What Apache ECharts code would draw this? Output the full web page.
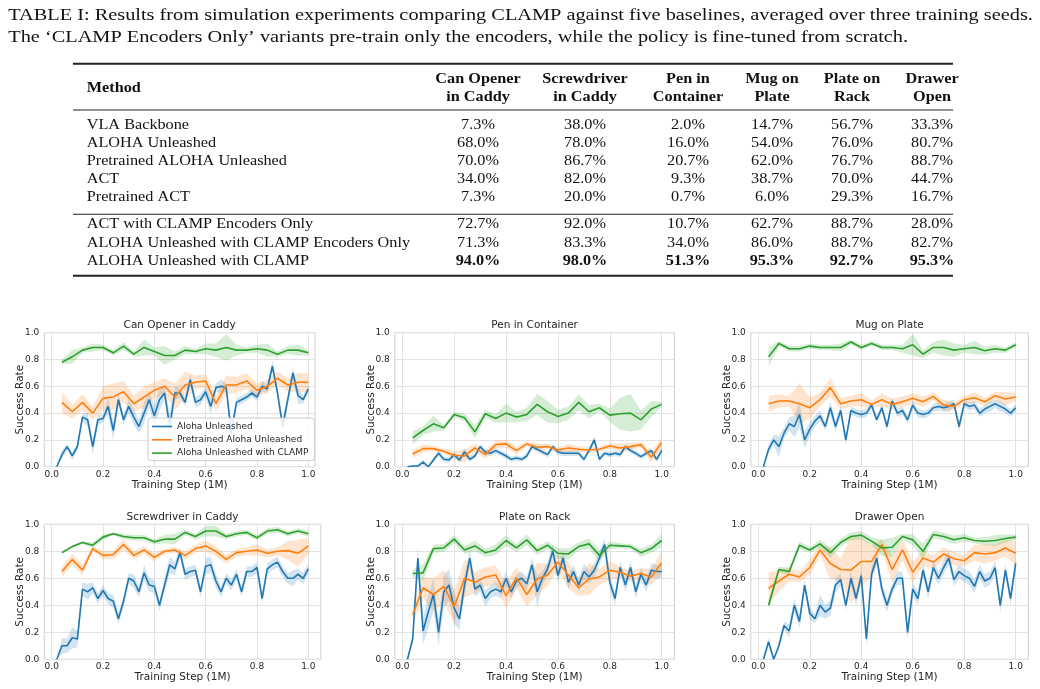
<!DOCTYPE html>
<html>
<head>
<meta charset="utf-8">
<script src="https://cdn.jsdelivr.net/npm/echarts@6/dist/echarts.min.js"></script>
<style>
  html, body { margin: 0; padding: 0; background: #fff; }
  #chart { width: 1040px; height: 689px; }
</style>
</head>
<body>
<div id="chart"></div>
<script>
// ---- table data ----
const captionLines = [
  'TABLE I: Results from simulation experiments comparing CLAMP against five baselines, averaged over three training seeds.',
  'The \u2018CLAMP Encoders Only\u2019 variants pre-train only the encoders, while the policy is fine-tuned from scratch.'
]
const taskHeaders = [
  ['Can Opener', 'in Caddy'], ['Screwdriver', 'in Caddy'], ['Pen in', 'Container'],
  ['Mug on', 'Plate'], ['Plate on', 'Rack'], ['Drawer', 'Open']
]
const methods = [
  'VLA Backbone', 'ALOHA Unleashed', 'Pretrained ALOHA Unleashed', 'ACT', 'Pretrained ACT',
  'ACT with CLAMP Encoders Only', 'ALOHA Unleashed with CLAMP Encoders Only', 'ALOHA Unleashed with CLAMP'
]
const results = [
  [7.3, 38.0, 2.0, 14.7, 56.7, 33.3],
  [68.0, 78.0, 16.0, 54.0, 76.0, 80.7],
  [70.0, 86.7, 20.7, 62.0, 76.7, 88.7],
  [34.0, 82.0, 9.3, 38.7, 70.0, 44.7],
  [7.3, 20.0, 0.7, 6.0, 29.3, 16.7],
  [72.7, 92.0, 10.7, 62.7, 88.7, 28.0],
  [71.3, 83.3, 34.0, 86.0, 88.7, 82.7],
  [94.0, 98.0, 51.3, 95.3, 92.7, 95.3]
]

// ---- curve data ----
const seriesNames = ['Aloha Unleashed', 'Pretrained Aloha Unleashed', 'Aloha Unleashed with CLAMP']
const xTicks = [0, 0.2, 0.4, 0.6, 0.8, 1.0]
const stepsFine = [0.02, 0.04, 0.06, 0.08, 0.10, 0.12, 0.14, 0.16, 0.18, 0.20,
  0.22, 0.24, 0.26, 0.28, 0.30, 0.32, 0.34, 0.36, 0.38, 0.40,
  0.42, 0.44, 0.46, 0.48, 0.50, 0.52, 0.54, 0.56, 0.58, 0.60,
  0.62, 0.64, 0.66, 0.68, 0.70, 0.72, 0.74, 0.76, 0.78, 0.80,
  0.82, 0.84, 0.86, 0.88, 0.90, 0.92, 0.94, 0.96, 0.98, 1.00]
const stepsCoarse = [0.04, 0.08, 0.12, 0.16, 0.20, 0.24, 0.28, 0.32, 0.36, 0.40,
  0.44, 0.48, 0.52, 0.56, 0.60, 0.64, 0.68, 0.72, 0.76, 0.80,
  0.84, 0.88, 0.92, 0.96, 1.00]

// Can Opener in Caddy
const canBlue = [0.00, 0.09, 0.15, 0.08, 0.15, 0.37, 0.35, 0.15, 0.35, 0.36,
  0.45, 0.27, 0.50, 0.35, 0.45, 0.37, 0.30, 0.40, 0.50, 0.38,
  0.50, 0.55, 0.30, 0.55, 0.55, 0.48, 0.65, 0.48, 0.50, 0.56,
  0.45, 0.59, 0.60, 0.59, 0.25, 0.48, 0.50, 0.52, 0.55, 0.52,
  0.60, 0.58, 0.75, 0.55, 0.30, 0.50, 0.70, 0.53, 0.50, 0.58]
const canBlueSd = [0, 0.03, 0.02, 0.03, 0.03, 0.03, 0.05, 0.06, 0.04, 0.03,
  0.06, 0.07, 0.04, 0.04, 0.05, 0.06, 0.05, 0.08, 0.06, 0.08,
  0.08, 0.05, 0.10, 0.05, 0.04, 0.03, 0.05, 0.04, 0.04, 0.04,
  0.06, 0.03, 0.05, 0.03, 0.06, 0.03, 0.03, 0.03, 0.03, 0.03,
  0.04, 0.03, 0.04, 0.04, 0.06, 0.04, 0.04, 0.06, 0.03, 0.03]
const canOrange = [0.48, 0.41, 0.48, 0.40, 0.51, 0.52, 0.56, 0.47, 0.52, 0.57, 0.60, 0.52, 0.61,
  0.63, 0.64, 0.47, 0.61, 0.61, 0.64, 0.57, 0.60, 0.66, 0.61, 0.63, 0.63]
const canOrangeSd = [0.08, 0.05, 0.06, 0.05, 0.09, 0.10, 0.08, 0.06, 0.08, 0.06, 0.06, 0.10, 0.10,
  0.05, 0.05, 0.06, 0.07, 0.06, 0.06, 0.05, 0.05, 0.05, 0.05, 0.07, 0.07]
const canGreen = [0.78, 0.82, 0.87, 0.89, 0.89, 0.85, 0.90, 0.84, 0.89, 0.86, 0.83, 0.83, 0.87,
  0.86, 0.88, 0.87, 0.89, 0.87, 0.87, 0.88, 0.87, 0.84, 0.87, 0.87, 0.85]
const canGreenSd = [0.02, 0.05, 0.02, 0.03, 0.02, 0.02, 0.03, 0.02, 0.06, 0.03, 0.07, 0.03, 0.03,
  0.02, 0.04, 0.05, 0.10, 0.04, 0.02, 0.03, 0.05, 0.02, 0.03, 0.04, 0.02]

// Pen in Container
const penBlue = [0.00, 0.005, 0.005, 0.035, 0.00, 0.05, 0.10, 0.055, 0.05, 0.09,
  0.05, 0.11, 0.055, 0.08, 0.15, 0.11, 0.10, 0.12, 0.10, 0.08,
  0.055, 0.065, 0.055, 0.08, 0.15, 0.13, 0.11, 0.09, 0.15, 0.11,
  0.10, 0.10, 0.10, 0.10, 0.055, 0.12, 0.20, 0.055, 0.10, 0.09,
  0.10, 0.09, 0.15, 0.12, 0.10, 0.075, 0.10, 0.12, 0.055, 0.12]
const penBlueSd = [0, 0.005, 0.005, 0.02, 0.005, 0.02, 0.02, 0.02, 0.02, 0.02,
  0.02, 0.03, 0.02, 0.02, 0.02, 0.02, 0.02, 0.02, 0.02, 0.02,
  0.02, 0.02, 0.02, 0.02, 0.02, 0.02, 0.02, 0.02, 0.02, 0.02,
  0.02, 0.02, 0.02, 0.02, 0.02, 0.02, 0.03, 0.02, 0.02, 0.02,
  0.02, 0.02, 0.02, 0.02, 0.02, 0.02, 0.02, 0.02, 0.02, 0.03]
const penOrange = [0.095, 0.135, 0.135, 0.115, 0.085, 0.08, 0.14, 0.09, 0.165, 0.17, 0.12, 0.17, 0.145,
  0.15, 0.125, 0.14, 0.13, 0.125, 0.13, 0.155, 0.14, 0.15, 0.165, 0.07, 0.18]
const penOrangeSd = [0.03, 0.03, 0.02, 0.02, 0.03, 0.05, 0.03, 0.03, 0.03, 0.03, 0.03, 0.02, 0.03,
  0.02, 0.02, 0.03, 0.02, 0.02, 0.02, 0.02, 0.03, 0.03, 0.02, 0.04, 0.04]
const penGreen = [0.215, 0.27, 0.32, 0.29, 0.39, 0.365, 0.26, 0.395, 0.36, 0.40, 0.37, 0.39, 0.465,
  0.41, 0.375, 0.40, 0.48, 0.41, 0.44, 0.385, 0.395, 0.40, 0.35, 0.43, 0.465]
const penGreenSd = [0.05, 0.03, 0.06, 0.02, 0.02, 0.03, 0.05, 0.03, 0.03, 0.07, 0.04, 0.05, 0.08,
  0.08, 0.05, 0.05, 0.06, 0.05, 0.03, 0.05, 0.12, 0.14, 0.07, 0.06, 0.02]

// Mug on Plate
const mugBlue = [0.00, 0.13, 0.20, 0.15, 0.25, 0.32, 0.30, 0.39, 0.20, 0.28,
  0.34, 0.38, 0.30, 0.44, 0.30, 0.42, 0.20, 0.42, 0.40, 0.39,
  0.40, 0.46, 0.35, 0.44, 0.30, 0.49, 0.40, 0.42, 0.35, 0.46,
  0.40, 0.39, 0.40, 0.44, 0.45, 0.44, 0.45, 0.47, 0.30, 0.47,
  0.45, 0.46, 0.40, 0.43, 0.45, 0.47, 0.45, 0.43, 0.40, 0.44]
const mugBlueSd = [0, 0.03, 0.04, 0.08, 0.04, 0.05, 0.08, 0.10, 0.06, 0.05,
  0.04, 0.04, 0.03, 0.05, 0.04, 0.04, 0.04, 0.03, 0.03, 0.03,
  0.03, 0.03, 0.03, 0.03, 0.03, 0.03, 0.03, 0.03, 0.03, 0.03,
  0.03, 0.03, 0.03, 0.03, 0.03, 0.03, 0.04, 0.03, 0.04, 0.03,
  0.03, 0.03, 0.03, 0.03, 0.04, 0.03, 0.04, 0.03, 0.03, 0.03]
const mugOrange = [0.47, 0.49, 0.49, 0.47, 0.44, 0.50, 0.59, 0.47, 0.49, 0.50, 0.465, 0.50, 0.465,
  0.485, 0.51, 0.485, 0.525, 0.46, 0.45, 0.50, 0.515, 0.485, 0.53, 0.505, 0.52]
const mugOrangeSd = [0.06, 0.05, 0.04, 0.15, 0.08, 0.05, 0.07, 0.04, 0.04, 0.05, 0.03, 0.05, 0.04,
  0.04, 0.04, 0.04, 0.03, 0.04, 0.03, 0.03, 0.04, 0.03, 0.03, 0.05, 0.03]
const mugGreen = [0.82, 0.92, 0.88, 0.88, 0.90, 0.89, 0.89, 0.89, 0.93, 0.89, 0.92, 0.89, 0.89,
  0.88, 0.91, 0.84, 0.89, 0.89, 0.87, 0.88, 0.89, 0.865, 0.88, 0.87, 0.91]
const mugGreenSd = [0.07, 0.02, 0.02, 0.02, 0.02, 0.02, 0.02, 0.03, 0.02, 0.02, 0.02, 0.02, 0.02,
  0.03, 0.08, 0.03, 0.04, 0.06, 0.05, 0.03, 0.05, 0.03, 0.03, 0.02, 0.02]

// Screwdriver in Caddy
const scrBlue = [0.00, 0.10, 0.10, 0.16, 0.15, 0.52, 0.50, 0.53, 0.45, 0.51,
  0.45, 0.43, 0.30, 0.43, 0.60, 0.58, 0.50, 0.64, 0.55, 0.54,
  0.40, 0.55, 0.70, 0.67, 0.79, 0.63, 0.65, 0.66, 0.50, 0.69,
  0.70, 0.58, 0.50, 0.60, 0.55, 0.63, 0.50, 0.65, 0.65, 0.68,
  0.45, 0.67, 0.70, 0.72, 0.65, 0.60, 0.60, 0.63, 0.60, 0.67]
const scrBlueSd = [0, 0.06, 0.05, 0.08, 0.06, 0.05, 0.06, 0.04, 0.04, 0.04,
  0.04, 0.05, 0.04, 0.04, 0.04, 0.05, 0.04, 0.06, 0.05, 0.05,
  0.04, 0.05, 0.06, 0.05, 0.04, 0.04, 0.04, 0.04, 0.04, 0.06,
  0.06, 0.05, 0.04, 0.04, 0.04, 0.04, 0.04, 0.04, 0.04, 0.04,
  0.04, 0.04, 0.04, 0.04, 0.04, 0.04, 0.06, 0.04, 0.04, 0.04]
const scrOrange = [0.65, 0.74, 0.66, 0.82, 0.77, 0.775, 0.85, 0.77, 0.81, 0.755, 0.80, 0.81, 0.77,
  0.82, 0.84, 0.80, 0.74, 0.79, 0.80, 0.81, 0.785, 0.80, 0.805, 0.785, 0.84]
const scrOrangeSd = [0.04, 0.04, 0.04, 0.02, 0.03, 0.03, 0.04, 0.03, 0.03, 0.03, 0.02, 0.02, 0.03,
  0.03, 0.04, 0.04, 0.03, 0.03, 0.03, 0.04, 0.03, 0.03, 0.07, 0.10, 0.06]
const scrGreen = [0.79, 0.835, 0.865, 0.845, 0.905, 0.93, 0.91, 0.90, 0.90, 0.87, 0.89, 0.89, 0.94,
  0.91, 0.95, 0.95, 0.91, 0.93, 0.94, 0.90, 0.95, 0.96, 0.93, 0.95, 0.93]
const scrGreenSd = [0.01, 0.01, 0.01, 0.02, 0.02, 0.01, 0.02, 0.02, 0.02, 0.02, 0.03, 0.04, 0.02,
  0.02, 0.04, 0.04, 0.02, 0.02, 0.02, 0.02, 0.02, 0.02, 0.02, 0.02, 0.02]

// Plate on Rack
const plateBlue = [0.00, 0.15, 0.75, 0.21, 0.35, 0.48, 0.20, 0.50, 0.55, 0.38,
  0.30, 0.55, 0.75, 0.52, 0.55, 0.45, 0.50, 0.52, 0.50, 0.60,
  0.50, 0.58, 0.60, 0.56, 0.70, 0.50, 0.60, 0.67, 0.80, 0.62,
  0.75, 0.57, 0.65, 0.55, 0.65, 0.61, 0.66, 0.75, 0.85, 0.57,
  0.45, 0.68, 0.55, 0.68, 0.50, 0.63, 0.55, 0.66, 0.65, 0.65]
const plateBlueSd = [0, 0.04, 0.08, 0.10, 0.12, 0.12, 0.10, 0.12, 0.12, 0.12,
  0.08, 0.08, 0.06, 0.06, 0.05, 0.06, 0.05, 0.05, 0.05, 0.05,
  0.05, 0.05, 0.05, 0.05, 0.05, 0.12, 0.05, 0.05, 0.05, 0.05,
  0.05, 0.05, 0.05, 0.05, 0.06, 0.05, 0.05, 0.05, 0.05, 0.05,
  0.05, 0.05, 0.05, 0.05, 0.05, 0.05, 0.05, 0.05, 0.05, 0.05]
const plateOrange = [0.33, 0.53, 0.48, 0.54, 0.39, 0.60, 0.57, 0.61, 0.625, 0.47, 0.605, 0.48, 0.595,
  0.625, 0.72, 0.625, 0.53, 0.595, 0.61, 0.66, 0.645, 0.615, 0.635, 0.61, 0.715]
const plateOrangeSd = [0.06, 0.08, 0.12, 0.12, 0.12, 0.14, 0.08, 0.07, 0.07, 0.10, 0.08, 0.09, 0.12,
  0.08, 0.06, 0.10, 0.06, 0.12, 0.06, 0.07, 0.04, 0.04, 0.04, 0.06, 0.09]
const plateGreen = [0.635, 0.64, 0.82, 0.825, 0.89, 0.81, 0.84, 0.79, 0.81, 0.88, 0.825, 0.885, 0.805,
  0.845, 0.785, 0.78, 0.835, 0.855, 0.77, 0.845, 0.84, 0.835, 0.79, 0.82, 0.88]
const plateGreenSd = [0.03, 0.06, 0.03, 0.03, 0.03, 0.03, 0.04, 0.03, 0.04, 0.04, 0.03, 0.04, 0.03,
  0.03, 0.04, 0.04, 0.03, 0.04, 0.04, 0.03, 0.02, 0.02, 0.03, 0.03, 0.05]

// Drawer Open
const drawerBlue = [0.00, 0.13, 0.00, 0.10, 0.25, 0.21, 0.40, 0.28, 0.55, 0.34,
  0.30, 0.40, 0.35, 0.38, 0.55, 0.59, 0.40, 0.60, 0.45, 0.62,
  0.15, 0.63, 0.75, 0.52, 0.40, 0.52, 0.60, 0.60, 0.20, 0.52,
  0.45, 0.66, 0.50, 0.68, 0.60, 0.68, 0.75, 0.59, 0.65, 0.62,
  0.60, 0.54, 0.65, 0.58, 0.60, 0.68, 0.40, 0.66, 0.45, 0.71]
const drawerBlueSd = [0, 0.03, 0.01, 0.03, 0.03, 0.05, 0.05, 0.05, 0.04, 0.05,
  0.03, 0.08, 0.05, 0.06, 0.05, 0.05, 0.04, 0.05, 0.05, 0.05,
  0.05, 0.05, 0.05, 0.05, 0.05, 0.04, 0.05, 0.05, 0.05, 0.05,
  0.05, 0.05, 0.05, 0.05, 0.05, 0.05, 0.05, 0.05, 0.05, 0.05,
  0.05, 0.05, 0.05, 0.05, 0.05, 0.05, 0.05, 0.05, 0.05, 0.05]
const drawerOrange = [0.525, 0.58, 0.63, 0.61, 0.68, 0.81, 0.71, 0.665, 0.66, 0.725, 0.725, 0.85, 0.665,
  0.81, 0.645, 0.75, 0.72, 0.78, 0.745, 0.73, 0.79, 0.78, 0.79, 0.825, 0.785]
const drawerOrangeSd = [0.12, 0.08, 0.05, 0.04, 0.06, 0.04, 0.12, 0.08, 0.25, 0.18, 0.12, 0.04, 0.10,
  0.08, 0.08, 0.06, 0.05, 0.05, 0.05, 0.04, 0.06, 0.07, 0.06, 0.06, 0.09]
const drawerGreen = [0.40, 0.665, 0.65, 0.845, 0.81, 0.855, 0.79, 0.865, 0.91, 0.92, 0.875, 0.825, 0.83,
  0.91, 0.885, 0.80, 0.925, 0.91, 0.885, 0.90, 0.88, 0.875, 0.88, 0.895, 0.905]
const drawerGreenSd = [0.04, 0.02, 0.03, 0.03, 0.02, 0.03, 0.04, 0.03, 0.03, 0.03, 0.03, 0.06, 0.07,
  0.02, 0.04, 0.06, 0.03, 0.03, 0.03, 0.03, 0.02, 0.03, 0.04, 0.03, 0.02]

const panels = [
  {title: 'Can Opener in Caddy', curves: [[canBlue, canBlueSd], [canOrange, canOrangeSd], [canGreen, canGreenSd]]},
  {title: 'Pen in Container', curves: [[penBlue, penBlueSd], [penOrange, penOrangeSd], [penGreen, penGreenSd]]},
  {title: 'Mug on Plate', curves: [[mugBlue, mugBlueSd], [mugOrange, mugOrangeSd], [mugGreen, mugGreenSd]]},
  {title: 'Screwdriver in Caddy', curves: [[scrBlue, scrBlueSd], [scrOrange, scrOrangeSd], [scrGreen, scrGreenSd]]},
  {title: 'Plate on Rack', curves: [[plateBlue, plateBlueSd], [plateOrange, plateOrangeSd], [plateGreen, plateGreenSd]]},
  {title: 'Drawer Open', curves: [[drawerBlue, drawerBlueSd], [drawerOrange, drawerOrangeSd], [drawerGreen, drawerGreenSd]]}
]

// ---- layout / style ----
const colors = ['#1f77b4', '#ff7f0e', '#2ca02c']
const bandColors = ['rgba(31,119,180,0.2)', 'rgba(255,127,14,0.2)', 'rgba(44,160,44,0.2)']
const X_MIN = -0.029
const X_MAX = 1.049
// pixel position of x=0 and x=1 for each column, top/height of each row
const colPx = [[51.7, 308.3], [402.3, 661.7], [758.3, 1015.7]]
const rowPx = [[332.7, 134], [524.3, 135]]
const textColor = '#262626'
const plotFont = 'DejaVu Sans'
const serif = 'Liberation Serif'

const grids = []
const xAxes = []
const yAxes = []
const titles = []
const series = []

panels.forEach((p, gi) => {
  const [x0, x1] = colPx[gi % 3]
  const [top, height] = rowPx[Math.floor(gi / 3)]
  const s = x1 - x0
  const left = x0 + X_MIN * s
  // first panel's frame stops a little short on the right in the reference
  const xMax = gi === 0 ? 1.026 : X_MAX
  const width = (xMax - X_MIN) * s
  grids.push({left, top, width, height, show: true, borderColor: '#cfcfcf', borderWidth: 1, containLabel: false})
  titles.push({
    text: p.title, left: left + width / 2, top: top - 13, textAlign: 'center', padding: 0,
    textStyle: {fontFamily: plotFont, fontSize: 10.5, fontWeight: 'normal', color: textColor}
  })
  xAxes.push({
    type: 'value', gridIndex: gi, min: X_MIN, max: xMax,
    name: 'Training Step (1M)', nameLocation: 'middle', nameGap: 12,
    nameTextStyle: {fontFamily: plotFont, fontSize: 10.5, color: textColor},
    axisLine: {show: false},
    axisTick: {show: false, customValues: xTicks},
    axisLabel: {customValues: xTicks, fontFamily: plotFont, fontSize: 9, color: textColor, margin: 3,
      formatter: v => v.toFixed(1)},
    splitLine: {show: true, lineStyle: {color: '#e2e2e2', width: 1}}
  })
  yAxes.push({
    type: 'value', gridIndex: gi, min: 0, max: 1, interval: 0.2,
    name: 'Success Rate', nameLocation: 'middle', nameGap: 18, nameMoveOverlap: false,
    nameTextStyle: {fontFamily: plotFont, fontSize: 10.5, color: textColor},
    axisLine: {show: false},
    axisTick: {show: false},
    axisLabel: {fontFamily: plotFont, fontSize: 9, color: textColor, margin: 5,
      formatter: v => v.toFixed(1)},
    splitLine: {show: true, lineStyle: {color: '#e2e2e2', width: 1}}
  })
  p.curves.forEach(([mean, sd], ci) => {
    const xs = ci === 0 ? stepsFine : stepsCoarse
    // shaded spread
    series.push({
      type: 'custom', xAxisIndex: gi, yAxisIndex: gi, clip: true, silent: true, z: 1,
      data: xs.map((x, i) => [x, mean[i] - sd[i], mean[i] + sd[i]]),
      encode: {x: 0, y: [1, 2]},
      renderItem(params, api) {
        if (params.dataIndex !== 0) return null
        const up = xs.map((x, i) => api.coord([x, mean[i] + sd[i]]))
        const lo = xs.map((x, i) => api.coord([x, mean[i] - sd[i]])).reverse()
        return {type: 'polygon', shape: {points: up.concat(lo)}, style: {fill: bandColors[ci]}}
      }
    })
  })
  p.curves.forEach(([mean], ci) => {
    const xs = ci === 0 ? stepsFine : stepsCoarse
    series.push({
      type: 'line', name: seriesNames[ci], xAxisIndex: gi, yAxisIndex: gi, z: 3 + ci,
      data: xs.map((x, i) => [x, mean[i]]),
      symbol: 'none', clip: true,
      lineStyle: {color: colors[ci], width: 1.6},
      itemStyle: {color: colors[ci]}
    })
  })
})

// ---- table drawn with graphic elements ----
const TBL_SCALE = 1.16
const TBL_FS = 14
const CAP_FS = 17
const colCenters = [478, 585, 688, 772, 852, 932]
const rowBaselines = [129.8, 147.7, 165.6, 183.5, 201.4, 229, 247.2, 265.5]
const graphics = []
const txt = (text, x, baseline, opts) => {
  const fs = opts.fs || TBL_FS
  graphics.push({
    type: 'text', x, y: baseline - 0.305 * fs, scaleX: opts.scale || TBL_SCALE, silent: true,
    style: {
      text, fontFamily: serif, fontSize: fs, fontWeight: opts.bold ? 'bold' : 'normal',
      fill: '#111', textAlign: opts.align || 'left', textVerticalAlign: 'middle'
    }
  })
}
const rule = (y, h) => graphics.push({type: 'rect', silent: true, shape: {x: 73, y, width: 880, height: h}, style: {fill: '#222'}})

txt(captionLines[0], 8.3, 20.5, {fs: CAP_FS, scale: 1.195})
txt(captionLines[1], 8.3, 42.5, {fs: CAP_FS, scale: 1.195})
rule(62.7, 2)
txt('Method', 86.7, 92.5, {bold: true})
taskHeaders.forEach((h, i) => {
  txt(h[0], colCenters[i], 84, {bold: true, align: 'center'})
  txt(h[1], colCenters[i], 101.3, {bold: true, align: 'center'})
})
rule(109.5, 1)
methods.forEach((m, r) => {
  txt(m, 86.7, rowBaselines[r], {})
  results[r].forEach((v, c) => {
    txt(v.toFixed(1) + '%', colCenters[c], rowBaselines[r], {align: 'center', bold: r === methods.length - 1})
  })
})
rule(213.8, 1)
rule(274.8, 2)

const chart = echarts.init(document.getElementById('chart'))
chart.setOption({
  backgroundColor: '#fff',
  animation: false,
  title: titles,
  grid: grids,
  xAxis: xAxes,
  yAxis: yAxes,
  legend: {
    data: seriesNames, orient: 'vertical', left: 148, top: 418,
    icon: 'rect',
    backgroundColor: 'rgba(255,255,255,0.85)', borderColor: '#cccccc', borderWidth: 1, borderRadius: 3,
    padding: [3, 6, 2, 4], itemWidth: 20, itemHeight: 1.6, itemGap: 2.3,
    textStyle: {fontFamily: plotFont, fontSize: 9, color: textColor, lineHeight: 11}
  },
  graphic: graphics,
  series
})
</script>
</body>
</html>
